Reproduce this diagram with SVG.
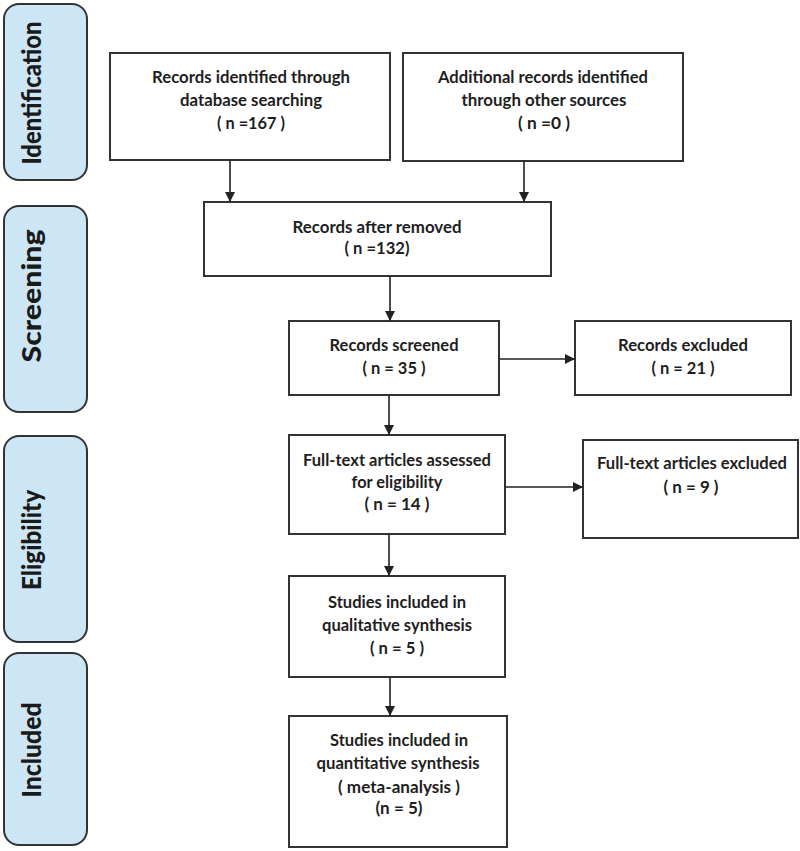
<svg xmlns="http://www.w3.org/2000/svg" width="800" height="851" viewBox="0 0 800 851">
<style>
.phase{fill:#cde6f6;stroke:#333;stroke-width:2}
.phase-t{font-family:Lato,"Open Sans","Liberation Sans",sans-serif;font-weight:900;font-size:27px;fill:#1a1a1a}
.box{fill:#fff;stroke:#333;stroke-width:2}
.t{font-family:Lato,"Open Sans","Liberation Sans",sans-serif;font-weight:bold;font-size:17px;fill:#1e1e1e;text-anchor:middle}
.conn{stroke:#222;stroke-width:1.6;fill:none;marker-end:url(#arr)}
</style>
<defs>
<marker id="arr" markerUnits="userSpaceOnUse" markerWidth="10" markerHeight="10" refX="10" refY="5" orient="auto">
<path d="M0,0 L10,5 L0,10 z" fill="#222"/>
</marker>
</defs>
<rect width="800" height="851" fill="#fff"/>
<g id="phase-identification"><rect class="phase" x="4" y="4" width="83" height="176" rx="15"/><text class="phase-t" transform="translate(41,93) rotate(-90)" text-anchor="middle" textLength="143" lengthAdjust="spacingAndGlyphs">Identification</text></g>
<g id="phase-screening"><rect class="phase" x="4" y="206" width="83" height="206" rx="15"/><text class="phase-t" transform="translate(41,296) rotate(-90)" text-anchor="middle" textLength="133" lengthAdjust="spacingAndGlyphs">Screening</text></g>
<g id="phase-eligibility"><rect class="phase" x="4" y="436" width="83" height="206" rx="15"/><text class="phase-t" transform="translate(41,540) rotate(-90)" text-anchor="middle" textLength="100" lengthAdjust="spacingAndGlyphs">Eligibility</text></g>
<g id="phase-included"><rect class="phase" x="4" y="653" width="83" height="192" rx="15"/><text class="phase-t" transform="translate(41,750) rotate(-90)" text-anchor="middle" textLength="95" lengthAdjust="spacingAndGlyphs">Included</text></g>

<g id="n-database"><rect class="box" x="110" y="53" width="280" height="107"/>
<text class="t" x="251" y="83" textLength="198" lengthAdjust="spacingAndGlyphs">Records identified through</text>
<text class="t" x="251" y="106" textLength="142" lengthAdjust="spacingAndGlyphs">database searching</text>
<text class="t" x="251" y="129" textLength="68" lengthAdjust="spacingAndGlyphs">( n =167 )</text></g>
<g id="n-additional"><rect class="box" x="403" y="53" width="280" height="108"/>
<text class="t" x="543" y="83" textLength="210" lengthAdjust="spacingAndGlyphs">Additional records identified</text>
<text class="t" x="544" y="106" textLength="165" lengthAdjust="spacingAndGlyphs">through other sources</text>
<text class="t" x="544" y="129" textLength="52" lengthAdjust="spacingAndGlyphs">( n =0 )</text></g>
<g id="n-removed"><rect class="box" x="204" y="202" width="347" height="74"/>
<text class="t" x="377" y="233" textLength="169" lengthAdjust="spacingAndGlyphs">Records after removed</text>
<text class="t" x="377" y="254" textLength="65" lengthAdjust="spacingAndGlyphs">( n =132)</text></g>
<g id="n-screened"><rect class="box" x="289" y="321" width="210" height="74"/>
<text class="t" x="394" y="351" textLength="129" lengthAdjust="spacingAndGlyphs">Records screened</text>
<text class="t" x="394" y="374" textLength="63" lengthAdjust="spacingAndGlyphs">( n = 35 )</text></g>
<g id="n-excluded"><rect class="box" x="575" y="321" width="216" height="74"/>
<text class="t" x="683" y="351" textLength="130" lengthAdjust="spacingAndGlyphs">Records excluded</text>
<text class="t" x="683" y="374" textLength="63" lengthAdjust="spacingAndGlyphs">( n = 21 )</text></g>
<g id="n-fulltext"><rect class="box" x="289" y="435" width="216" height="99"/>
<text class="t" x="397" y="466" textLength="188" lengthAdjust="spacingAndGlyphs">Full-text articles assessed</text>
<text class="t" x="397" y="488" textLength="91" lengthAdjust="spacingAndGlyphs">for eligibility</text>
<text class="t" x="397" y="510" textLength="65" lengthAdjust="spacingAndGlyphs">( n = 14 )</text></g>
<g id="n-ft-excluded"><rect class="box" x="583" y="440" width="215" height="98"/>
<text class="t" x="692" y="469" textLength="190" lengthAdjust="spacingAndGlyphs">Full-text articles excluded</text>
<text class="t" x="691" y="493" textLength="55" lengthAdjust="spacingAndGlyphs">( n = 9 )</text></g>
<g id="n-qualitative"><rect class="box" x="289" y="576" width="216" height="101"/>
<text class="t" x="397" y="608" textLength="138" lengthAdjust="spacingAndGlyphs">Studies included in</text>
<text class="t" x="397" y="631" textLength="150" lengthAdjust="spacingAndGlyphs">qualitative synthesis</text>
<text class="t" x="397" y="654" textLength="54" lengthAdjust="spacingAndGlyphs">( n = 5 )</text></g>
<g id="n-quantitative"><rect class="box" x="289" y="716" width="218" height="131"/>
<text class="t" x="399" y="746" textLength="138" lengthAdjust="spacingAndGlyphs">Studies included in</text>
<text class="t" x="398" y="769" textLength="163" lengthAdjust="spacingAndGlyphs">quantitative synthesis</text>
<text class="t" x="399" y="793" textLength="122" lengthAdjust="spacingAndGlyphs">( meta-analysis )</text>
<text class="t" x="399" y="814" textLength="47" lengthAdjust="spacingAndGlyphs">(n = 5)</text></g>

<g id="connectors">
<line class="conn" x1="230" y1="160" x2="230" y2="202"/>
<line class="conn" x1="524" y1="161" x2="524" y2="202"/>
<line class="conn" x1="390" y1="276" x2="390" y2="321"/>
<line class="conn" x1="389" y1="395" x2="389" y2="435"/>
<line class="conn" x1="499" y1="359" x2="575" y2="359"/>
<line class="conn" x1="389" y1="534" x2="389" y2="576"/>
<line class="conn" x1="505" y1="487" x2="583" y2="487"/>
<line class="conn" x1="390" y1="677" x2="390" y2="716"/>
</g>
</svg>
